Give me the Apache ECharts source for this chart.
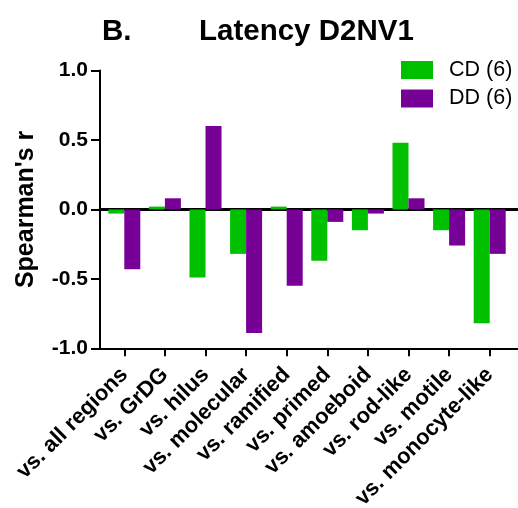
<!DOCTYPE html>
<html>
<head>
<meta charset="utf-8">
<script src="https://cdn.jsdelivr.net/npm/echarts@6/dist/echarts.min.js"></script>
<style>html,body{margin:0;padding:0;background:#fff}#c{width:518px;height:508px}</style>
</head>
<body>
<div id="c"></div>
<script>
var categories = ['vs. all regions','vs. GrDG','vs. hilus','vs. molecular','vs. ramified','vs. primed','vs. amoeboid','vs. rod-like','vs. motile','vs. monocyte-like'];
var cdValues = [-0.03, 0.02, -0.49, -0.32, 0.02, -0.37, -0.15, 0.48, -0.15, -0.82];
var ddValues = [-0.43, 0.08, 0.60, -0.89, -0.55, -0.09, -0.03, 0.08, -0.26, -0.32];
var seriesNames = ['CD (6)', 'DD (6)'];
var yTicks = [-1.0, -0.5, 0.0, 0.5, 1.0];

var FONT = "'Liberation Sans', Arial, Helvetica, sans-serif";
var chart = echarts.init(document.getElementById('c'), null, {renderer: 'canvas'});
chart.setOption({
  animation: false,
  backgroundColor: '#fff',
  title: [
    {text: 'B.', left: 97, top: 12, textStyle: {fontFamily: FONT, fontWeight: 'bold', fontSize: 29.5, color: '#000'}},
    {text: 'Latency D2NV1', left: 194, top: 12, textStyle: {fontFamily: FONT, fontWeight: 'bold', fontSize: 29.5, color: '#000'}}
  ],
  legend: {
    orient: 'vertical', left: 401, top: 59, padding: 0,
    itemWidth: 32, itemHeight: 18, itemGap: 6.5, icon: 'rect',
    data: seriesNames,
    textStyle: {fontFamily: FONT, fontSize: 21.5, color: '#000', padding: [0, 0, 0, 11]}
  },
  grid: [
    {left: 104, right: 8, top: 70.5, bottom: 159.7, outerBoundsMode: 'none', containLabel: false},
    {left: 100, right: 0, top: 70.5, bottom: 159.7, outerBoundsMode: 'none', containLabel: false}
  ],
  xAxis: [
    {
      type: 'category', gridIndex: 0, data: categories,
      axisLine: {show: false, onZero: false},
      axisTick: {show: true, alignWithLabel: true, length: 8, lineStyle: {color: '#000', width: 2}},
      axisLabel: {interval: 0, rotate: 45, margin: 23, fontFamily: FONT, fontWeight: 'bold', fontSize: 22, color: '#000'}
    },
    {
      type: 'value', gridIndex: 1, min: 0, max: 1, position: 'bottom',
      axisLine: {show: true, onZero: false, lineStyle: {color: '#000', width: 2}},
      axisTick: {show: false}, axisLabel: {show: false}, splitLine: {show: false}
    },
    {
      type: 'value', gridIndex: 1, min: 0, max: 1, position: 'bottom',
      axisLine: {show: true, onZero: true, lineStyle: {color: '#000', width: 3}},
      axisTick: {show: false}, axisLabel: {show: false}, splitLine: {show: false}
    }
  ],
  yAxis: [
    {type: 'value', gridIndex: 0, min: yTicks[0], max: yTicks[yTicks.length - 1], show: false},
    {
      type: 'value', gridIndex: 1, min: yTicks[0], max: yTicks[yTicks.length - 1], interval: 0.5,
      name: "Spearman's r", nameLocation: 'middle', nameGap: 61,
      nameTextStyle: {fontFamily: FONT, fontWeight: 'bold', fontSize: 25, color: '#000'},
      axisLine: {show: true, onZero: false, lineStyle: {color: '#000', width: 2}},
      axisTick: {show: true, length: 9, lineStyle: {color: '#000', width: 2}},
      axisLabel: {margin: 12, fontFamily: FONT, fontWeight: 'bold', fontSize: 21, color: '#000',
        formatter: function (v) { return v.toFixed(1); }},
      splitLine: {show: false}
    }
  ],
  series: [
    {name: seriesNames[0], type: 'bar', xAxisIndex: 0, yAxisIndex: 0, data: cdValues,
     barWidth: 16, barGap: '0%', itemStyle: {color: '#00c000'}},
    {name: seriesNames[1], type: 'bar', xAxisIndex: 0, yAxisIndex: 0, data: ddValues,
     barWidth: 16, barGap: '0%', itemStyle: {color: '#770096'}}
  ]
});
</script>
</body>
</html>
